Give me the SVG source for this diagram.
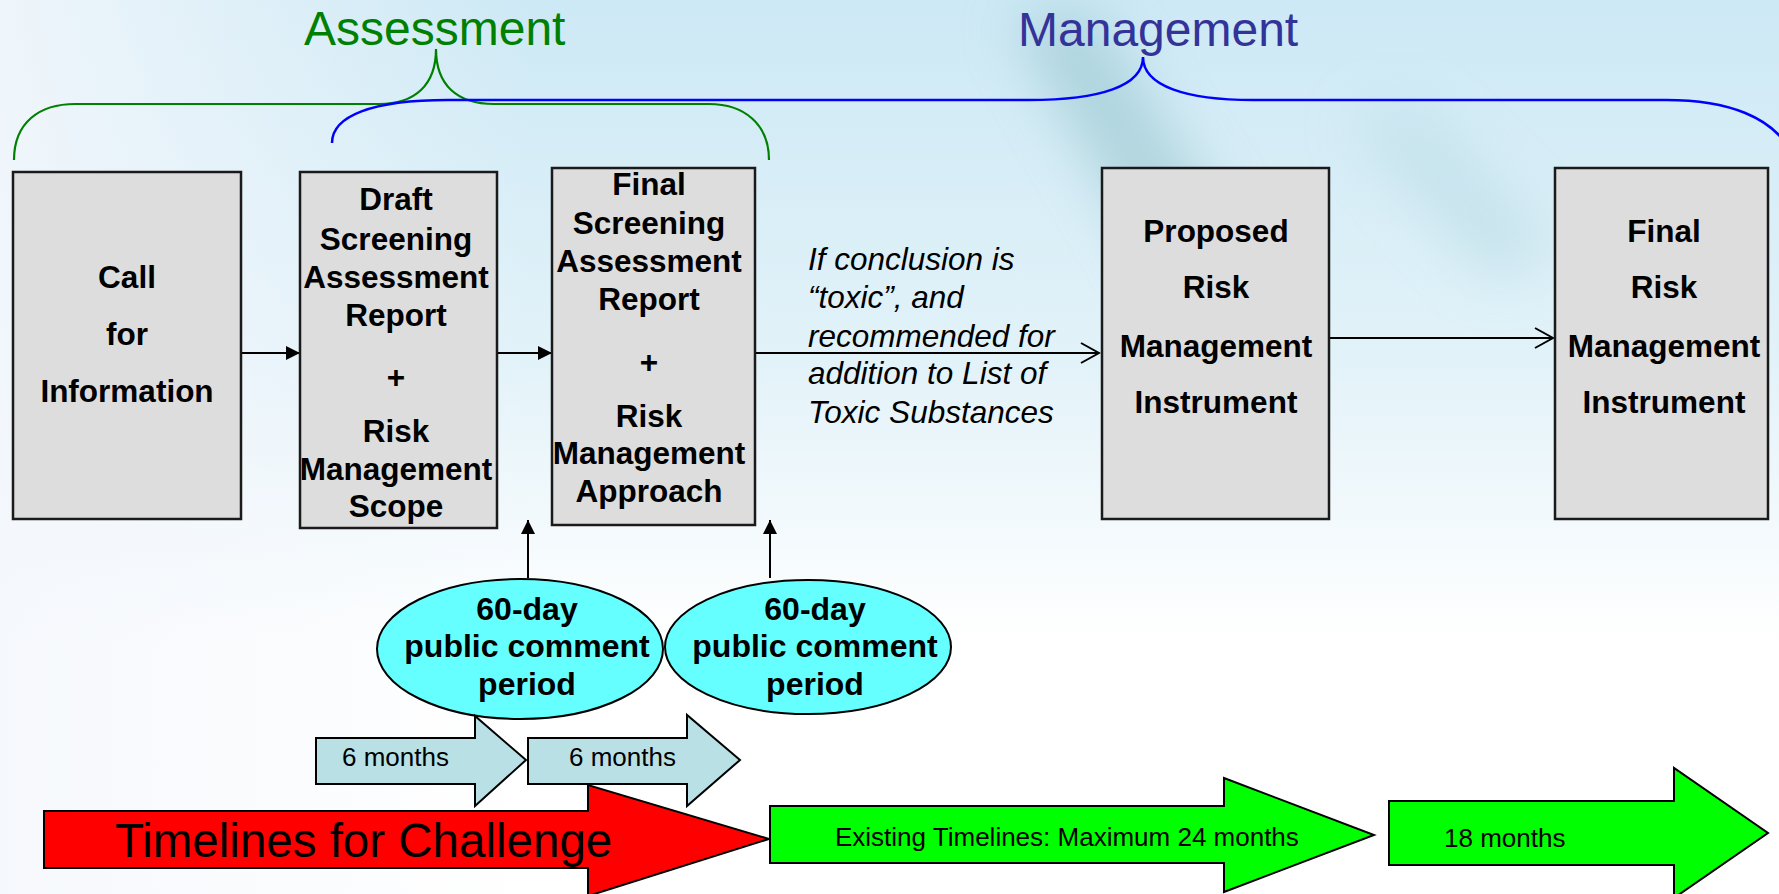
<svg xmlns="http://www.w3.org/2000/svg" width="1779" height="894" viewBox="0 0 1779 894">
<defs>
<linearGradient id="bgV" x1="0" y1="0" x2="0" y2="1">
<stop offset="0" stop-color="#cde9f5"/>
<stop offset="0.4" stop-color="#e2f2f9"/>
<stop offset="0.72" stop-color="#ffffff"/>
<stop offset="1" stop-color="#ffffff"/>
</linearGradient>
<linearGradient id="bgH" x1="0" y1="0" x2="1" y2="0">
<stop offset="0" stop-color="#f4f7fc" stop-opacity="0.85"/>
<stop offset="0.3" stop-color="#f4f7fc" stop-opacity="0"/>
</linearGradient>
<filter id="blur" x="-50%" y="-50%" width="200%" height="200%"><feGaussianBlur stdDeviation="28"/></filter>
<marker id="solidHead" viewBox="0 0 14 14" refX="14" refY="7" markerWidth="14" markerHeight="14" markerUnits="userSpaceOnUse" orient="auto">
<path d="M0,0 L14,7 L0,14 Z" fill="#000"/>
</marker>
<marker id="openHead" viewBox="0 0 22 22" refX="20" refY="11" markerWidth="22" markerHeight="22" markerUnits="userSpaceOnUse" orient="auto">
<path d="M2,1 L20,11 L2,21" fill="none" stroke="#000" stroke-width="2"/>
</marker>
<style>
.box{fill:#dddddd;stroke:#1a1a1a;stroke-width:2.5}
.bt{font-family:"Liberation Sans",Arial,sans-serif;font-weight:bold;font-size:31.5px;fill:#000;text-anchor:middle}
.et{font-family:"Liberation Sans",Arial,sans-serif;font-weight:bold;font-size:32px;fill:#000;text-anchor:middle}
.it{font-family:"Liberation Sans",Arial,sans-serif;font-style:italic;font-size:31.5px;fill:#000}
.ell{fill:#66ffff;stroke:#000;stroke-width:2}
.conn{fill:none;stroke:#000;stroke-width:2}
.mon{fill:#b9e0e4;stroke:#000;stroke-width:2}
.mt{font-family:"Liberation Sans",Arial,sans-serif;font-size:26px;fill:#000}
.gr{fill:#00ff00;stroke:#000;stroke-width:2}
.hd{font-family:"Liberation Sans",Arial,sans-serif;font-size:48px}
</style>
</defs>
<rect x="0" y="0" width="1779" height="894" fill="#ffffff"/>
<rect x="0" y="0" width="1779" height="894" fill="url(#bgV)"/>
<rect x="0" y="0" width="1779" height="894" fill="url(#bgH)"/>
<g filter="url(#blur)" opacity="0.55">
<polygon points="1010,20 1090,10 1240,240 1160,280" fill="#8fc0c8"/>
<polygon points="1350,120 1420,110 1560,250 1490,280" fill="#b5d9e2"/>
</g>

<g id="headings">
<text class="hd" x="304" y="45" fill="#008000">Assessment</text>
<text class="hd" x="1018" y="46" fill="#333399">Management</text>
<path d="M14,160 C14,122 40,104 75,104 L379,104 C415,104 436,85 436,49 C436,85 457,104 494,104 L709,104 C744,104 769,124 769,160" fill="none" stroke="#008000" stroke-width="2.2"/>
<path d="M332,143 C332,116 372,100 448,100 L1029,100 C1100,100 1143,86 1143,57 C1143,86 1186,100 1253,100 L1666,100 C1730,100 1772,118 1790,150" fill="none" stroke="#0000ff" stroke-width="2.5"/>
</g>

<g id="connectors">
<line class="conn" x1="241" y1="353" x2="300" y2="353" marker-end="url(#solidHead)"/>
<line class="conn" x1="497" y1="353" x2="552" y2="353" marker-end="url(#solidHead)"/>
<line class="conn" x1="755" y1="353" x2="1099" y2="353" marker-end="url(#openHead)"/>
<line class="conn" x1="1329" y1="338" x2="1553" y2="338" marker-end="url(#openHead)"/>
<line class="conn" x1="528" y1="578" x2="528" y2="520" marker-end="url(#solidHead)"/>
<line class="conn" x1="770" y1="578" x2="770" y2="520" marker-end="url(#solidHead)"/>
</g>

<g id="node-call">
<rect class="box" x="13" y="172" width="228" height="347"/>
<text class="bt" x="127" y="288">Call</text>
<text class="bt" x="127" y="345">for</text>
<text class="bt" x="127" y="402">Information</text>
</g>

<g id="node-draft">
<rect class="box" x="300" y="172" width="197" height="356"/>
<text class="bt" x="396" y="210">Draft</text>
<text class="bt" x="396" y="250">Screening</text>
<text class="bt" x="396" y="288">Assessment</text>
<text class="bt" x="396" y="326">Report</text>
<text class="bt" x="396" y="388">+</text>
<text class="bt" x="396" y="442">Risk</text>
<text class="bt" x="396" y="480">Management</text>
<text class="bt" x="396" y="517">Scope</text>
</g>

<g id="node-final-screening">
<rect class="box" x="552" y="168" width="203" height="357"/>
<text class="bt" x="649" y="195">Final</text>
<text class="bt" x="649" y="234">Screening</text>
<text class="bt" x="649" y="272">Assessment</text>
<text class="bt" x="649" y="310">Report</text>
<text class="bt" x="649" y="373">+</text>
<text class="bt" x="649" y="427">Risk</text>
<text class="bt" x="649" y="464">Management</text>
<text class="bt" x="649" y="502">Approach</text>
</g>

<g id="condition-label">
<text class="it" x="808" y="270">If conclusion is</text>
<text class="it" x="808" y="308">“toxic”, and</text>
<text class="it" x="808" y="347">recommended for</text>
<text class="it" x="808" y="384">addition to List of</text>
<text class="it" x="808" y="423">Toxic Substances</text>
</g>

<g id="node-proposed">
<rect class="box" x="1102" y="168" width="227" height="351"/>
<text class="bt" x="1216" y="242">Proposed</text>
<text class="bt" x="1216" y="298">Risk</text>
<text class="bt" x="1216" y="357">Management</text>
<text class="bt" x="1216" y="413">Instrument</text>
</g>

<g id="node-final-risk">
<rect class="box" x="1555" y="168" width="213" height="351"/>
<text class="bt" x="1664" y="242">Final</text>
<text class="bt" x="1664" y="298">Risk</text>
<text class="bt" x="1664" y="357">Management</text>
<text class="bt" x="1664" y="413">Instrument</text>
</g>

<g id="comment-1">
<ellipse class="ell" cx="520" cy="649" rx="143" ry="70"/>
<text class="et" x="527" y="620">60-day</text>
<text class="et" x="527" y="657">public comment</text>
<text class="et" x="527" y="695">period</text>
</g>

<g id="comment-2">
<ellipse class="ell" cx="808" cy="647" rx="143" ry="67"/>
<text class="et" x="815" y="620">60-day</text>
<text class="et" x="815" y="657">public comment</text>
<text class="et" x="815" y="695">period</text>
</g>

<g id="timeline-challenge">
<polygon points="44,811 588,811 588,785 769,839 588,896 588,868 44,868" fill="#ff0000" stroke="#000" stroke-width="2"/>
<text x="115" y="857" font-family="Liberation Sans, Arial, sans-serif" font-size="47.5" fill="#000">Timelines for Challenge</text>
</g>

<g id="months-1">
<polygon class="mon" points="316,738 475,738 475,716 526,760 475,806 475,784 316,784"/>
<text class="mt" x="342" y="766">6 months</text>
</g>

<g id="months-2">
<polygon class="mon" points="528,738 687,738 687,715 740,760 687,806 687,784 528,784"/>
<text class="mt" x="569" y="766">6 months</text>
</g>

<g id="timeline-existing">
<polygon class="gr" points="770,806 1224,806 1224,778 1374,835 1224,892 1224,863 770,863"/>
<text class="mt" x="835" y="846">Existing Timelines: Maximum 24 months</text>
</g>

<g id="timeline-18">
<polygon class="gr" points="1389,801 1674,801 1674,768 1768,833 1674,898 1674,865 1389,865"/>
<text class="mt" x="1444" y="847">18 months</text>
</g>
</svg>
